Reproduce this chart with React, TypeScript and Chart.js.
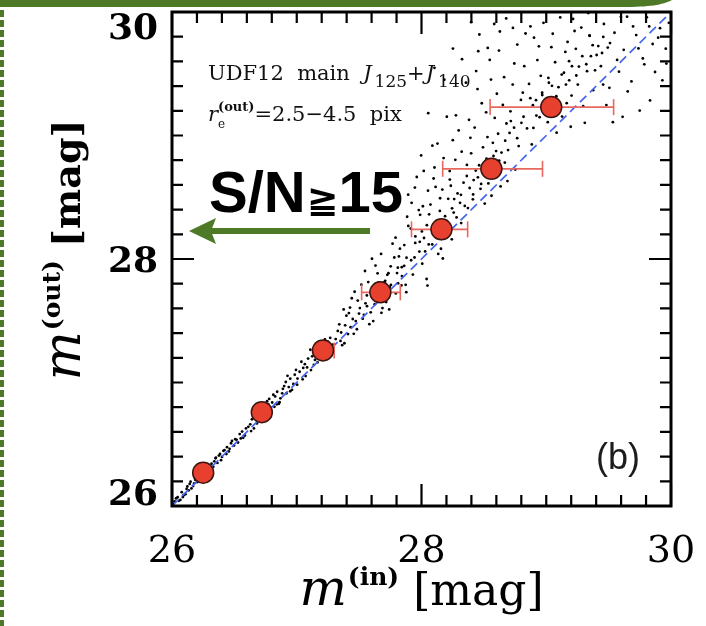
import React, { useEffect, useRef } from "react";
import { Chart, registerables } from "chart.js";

Chart.register(...registerables);

// ---------- axis definition ----------
const axisMin = 26;
const axisMax = 30;
const majorTicks = [26, 28, 30];
const tickLabels = ["26", "28", "30"];
const minorStep = 0.2;

// ---------- binned medians (red circles) ----------
const binInMag = [26.25, 26.72, 27.21, 27.67, 28.16, 28.56, 29.04];
const binOutMag = [26.27, 26.76, 27.26, 27.73, 28.24, 28.73, 29.23];
const binErrLow = [26.23, 26.69, 27.15, 27.52, 27.92, 28.17, 28.55];
const binErrHigh = [26.27, 26.77, 27.3, 27.83, 28.37, 28.97, 29.54];

// ---------- one-to-one line ----------
const identityLine = [26, 30];

// ---------- simulated galaxies (black dots), [m_in, m_out] ----------
const brightPoints: [number, number][] = [
  [26.021, 26.038], [26.214, 26.241], [26.087, 26.073], [26.352, 26.391], [26.156, 26.142], [26.473, 26.508], [26.045, 26.071],
  [26.298, 26.287], [26.518, 26.536], [26.123, 26.158], [26.401, 26.397], [26.247, 26.263], [26.562, 26.603], [26.067, 26.049],
  [26.339, 26.362], [26.186, 26.212], [26.441, 26.476], [26.273, 26.304], [26.108, 26.096], [26.584, 26.571], [26.385, 26.421],
  [26.032, 26.061], [26.231, 26.218], [26.497, 26.489], [26.142, 26.179], [26.317, 26.342], [26.456, 26.442], [26.201, 26.193],
  [26.543, 26.582], [26.078, 26.112], [26.364, 26.349], [26.259, 26.297], [26.421, 26.453], [26.169, 26.161], [26.529, 26.514],
  [26.093, 26.087], [26.288, 26.321], [26.481, 26.527], [26.134, 26.127], [26.376, 26.408], [26.222, 26.261], [26.571, 26.552],
  [26.055, 26.042], [26.331, 26.317], [26.412, 26.447], [26.195, 26.236], [26.507, 26.541], [26.284, 26.268], [26.117, 26.138],
  [26.462, 26.463], [26.243, 26.229], [26.593, 26.628], [26.178, 26.184], [26.349, 26.386], [26.436, 26.421], [26.012, 26.018],
  [26.265, 26.276], [26.551, 26.547], [26.149, 26.197], [26.393, 26.371],
];

const midPoints: [number, number][] = [
  [26.612, 26.641], [26.883, 26.912], [26.734, 26.792], [27.052, 27.118], [26.657, 26.628], [27.214, 27.286], [26.821, 26.803],
  [26.948, 27.031], [27.137, 27.142], [26.702, 26.748], [27.268, 27.362], [26.779, 26.867], [27.003, 26.982], [26.862, 26.841],
  [27.178, 27.243], [26.641, 26.702], [27.091, 27.194], [26.918, 26.913], [26.756, 26.731], [27.232, 27.221], [26.984, 27.063],
  [26.681, 26.669], [27.114, 27.101], [26.843, 26.925], [27.288, 27.307], [26.627, 26.661], [27.023, 27.087], [26.803, 26.838],
  [27.158, 27.292], [26.936, 26.963], [26.718, 26.805], [27.071, 27.052], [26.869, 26.872], [27.249, 27.331], [26.792, 26.768],
  [27.198, 27.184], [26.962, 26.941], [26.664, 26.736], [27.037, 27.168], [26.899, 26.971], [27.124, 27.212], [26.745, 26.762],
  [27.274, 27.264], [26.827, 26.887], [27.006, 27.032], [26.691, 26.718], [27.167, 27.163], [26.912, 27.004], [26.771, 26.824],
  [27.083, 27.122], [26.634, 26.607], [27.226, 27.349], [26.857, 26.828], [26.994, 27.102], [27.146, 27.183], [26.723, 26.694],
  [27.047, 27.026], [26.889, 26.949], [27.261, 27.238], [26.812, 26.901], [26.973, 26.988], [27.109, 27.265], [26.674, 26.7],
  [27.192, 27.318], [26.948, 26.929], [26.762, 26.849], [27.065, 27.148], [26.84, 26.823], [27.239, 27.196], [26.926, 27.054],
  [27.312, 27.352], [27.563, 27.618], [27.418, 27.562], [27.734, 27.691], [27.457, 27.394], [27.648, 27.884], [27.341, 27.471],
  [27.782, 28.012], [27.529, 27.517], [27.606, 27.742], [27.382, 27.318], [27.812, 27.803], [27.489, 27.663], [27.687, 27.603],
  [27.356, 27.405], [27.753, 27.941], [27.582, 27.472], [27.432, 27.448], [27.664, 27.726], [27.518, 27.792], [27.827, 28.084],
  [27.398, 27.541], [27.625, 27.634], [27.473, 27.497], [27.709, 27.823], [27.547, 27.903], [27.364, 27.302], [27.794, 27.721],
  [27.441, 27.682], [27.676, 28.041], [27.593, 27.568], [27.506, 27.603], [27.746, 27.774], [27.329, 27.418], [27.631, 27.947],
  [27.411, 27.392], [27.842, 27.934], [27.562, 27.705], [27.717, 27.651], [27.482, 27.431], [27.376, 27.592], [27.654, 27.808],
  [27.538, 27.548], [27.804, 27.886], [27.449, 27.514], [27.696, 27.737], [27.613, 27.497], [27.768, 28.124], [27.351, 27.337],
  [27.573, 27.813], [27.427, 27.607], [27.741, 27.592], [27.499, 27.558], [27.819, 28.021], [27.642, 27.672], [27.388, 27.463],
  [27.726, 27.872], [27.551, 27.641], [27.464, 27.735], [27.603, 28.002], [27.679, 27.564], [27.839, 27.786],
];

const ridgePoints: [number, number][] = [
  [27.702, 27.812], [27.755, 27.79], [27.81, 27.93], [27.843, 27.862], [27.88, 28.01], [27.917, 27.99], [27.95, 28.13],
  [27.983, 28.06], [28.02, 28.17], [28.058, 28.118], [28.094, 28.262], [28.121, 28.171], [28.182, 28.302], [28.208, 28.219],
  [28.245, 28.41], [28.281, 28.337], [28.316, 28.52], [28.347, 28.43], [28.386, 28.575], [28.414, 28.523], [28.452, 28.661],
  [28.478, 28.608], [28.521, 28.812], [28.546, 28.69], [28.598, 28.874], [28.623, 28.796], [28.671, 28.958], [28.694, 28.882],
  [28.742, 29.063], [28.767, 28.978], [28.818, 29.152], [28.846, 29.057], [28.893, 29.245], [28.921, 29.161], [28.968, 29.327],
  [28.997, 29.256], [29.046, 29.402], [29.081, 29.318], [29.124, 29.493], [29.158, 29.412], [29.206, 29.561], [29.241, 29.486],
  [29.289, 29.642], [29.321, 29.577], [29.372, 29.731], [29.404, 29.652], [29.457, 29.798], [29.493, 29.712], [27.735, 27.885],
  [27.861, 27.945], [28.003, 28.223], [28.147, 28.389], [28.262, 28.485], [28.435, 28.716], [28.572, 28.941], [28.716, 29.117],
  [28.872, 29.302], [29.017, 29.466], [29.183, 29.602], [29.347, 29.811], [27.792, 28.173], [27.894, 28.268], [27.989, 28.358],
  [28.113, 28.584], [28.227, 28.643], [28.364, 28.762],
];

const faintPoints: [number, number][] = [
  [27.862, 28.113], [28.214, 28.487], [27.931, 27.874], [28.097, 28.652], [28.318, 28.291], [27.978, 28.396], [28.156, 28.083],
  [28.043, 28.274], [28.271, 28.803], [27.893, 28.521], [28.189, 28.347], [28.006, 27.962], [28.337, 28.618], [27.951, 28.183],
  [28.128, 28.935], [28.072, 28.441], [28.243, 28.159], [27.873, 27.791], [28.298, 29.041], [28.018, 28.713], [28.167, 28.562],
  [27.914, 28.247], [28.226, 28.712], [28.086, 28.118], [27.997, 28.839], [28.141, 28.286], [28.309, 28.455], [27.944, 28.012],
  [28.052, 28.553], [28.258, 28.376], [27.885, 28.342], [28.177, 28.817], [28.113, 28.209], [28.029, 28.061], [28.235, 28.593],
  [27.962, 28.664], [28.322, 28.869], [28.061, 28.362], [28.197, 28.244], [27.921, 28.455], [28.276, 29.163], [28.104, 28.741],
  [27.986, 28.139], [28.149, 28.492], [28.041, 27.838], [28.048, 27.785], [27.878, 27.731], [28.171, 28.004], [28.087, 28.918],
  [28.203, 29.152], [28.289, 28.531], [28.134, 28.041], [27.947, 28.578], [28.011, 28.427], [28.251, 28.962],
  [28.363, 28.672], [28.587, 29.142], [28.412, 28.483], [28.744, 29.583], [28.493, 28.904], [28.668, 28.781], [28.381, 29.127],
  [28.812, 29.347], [28.536, 28.612], [28.449, 29.376], [28.706, 29.021], [28.621, 29.688], [28.398, 28.856], [28.779, 28.914],
  [28.557, 29.453], [28.473, 28.568], [28.834, 29.826], [28.652, 29.247], [28.426, 29.064], [28.594, 28.703], [28.731, 29.412],
  [28.518, 29.188], [28.372, 28.412], [28.689, 28.631], [28.801, 29.103], [28.462, 28.759], [28.614, 29.014], [28.547, 29.612],
  [28.768, 29.736], [28.438, 29.522], [28.641, 28.862], [28.507, 28.449], [28.824, 29.561], [28.577, 28.834], [28.713, 29.196],
  [28.392, 28.981], [28.483, 29.261], [28.662, 29.472], [28.752, 28.724], [28.529, 28.987], [28.604, 29.338], [28.418, 28.639],
  [28.797, 29.288], [28.681, 29.097], [28.561, 28.512], [28.455, 29.683], [28.733, 29.871], [28.356, 29.428], [28.634, 28.588],
  [28.488, 28.723], [28.325, 29.618], [28.252, 29.704], [28.531, 29.709], [28.628, 29.842], [28.183, 29.452], [28.054, 29.181],
  [28.104, 29.548], [28.398, 29.918], [28.583, 29.903], [28.464, 29.818], [28.679, 29.948],
  [28.862, 29.418], [29.127, 29.153], [28.941, 29.722], [29.262, 29.558], [29.033, 29.274], [28.897, 29.061], [29.348, 29.806],
  [29.184, 29.447], [28.978, 29.912], [29.071, 29.593], [29.296, 29.237], [28.918, 29.286], [29.215, 29.944], [29.012, 29.108],
  [29.153, 29.677], [28.873, 29.883], [29.327, 29.521], [29.098, 29.391], [28.956, 29.483], [29.237, 29.702], [29.052, 29.824],
  [29.376, 29.367], [28.993, 29.187], [29.164, 29.262], [29.281, 29.874], [28.929, 29.611], [29.112, 29.956], [29.203, 29.323],
  [29.041, 29.715], [29.358, 29.642], [28.884, 28.928], [29.142, 29.508], [29.309, 29.103], [29.021, 29.427], [29.196, 29.071],
  [28.967, 29.346], [29.253, 29.412], [29.083, 29.023], [29.391, 29.528], [28.902, 29.792], [29.227, 29.846], [29.063, 29.221],
  [29.337, 29.992], [28.947, 29.148], [29.171, 29.758],
  [29.417, 29.724], [29.583, 29.517], [29.462, 29.903], [29.721, 29.813], [29.506, 29.386], [29.648, 29.962], [29.853, 29.741],
  [29.438, 29.561], [29.774, 29.624], [29.547, 29.832], [29.912, 29.869], [29.683, 29.438], [29.482, 29.246], [29.806, 29.957],
  [29.621, 29.694], [29.958, 29.703], [29.534, 29.108], [29.749, 29.202], [29.872, 29.514], [29.447, 29.668], [29.696, 29.883],
  [29.931, 29.447], [29.568, 29.612], [29.832, 29.284], [29.653, 29.357], [29.983, 29.912], [29.511, 29.748], [29.786, 29.576],
  [29.612, 29.151], [29.897, 29.792], [29.456, 29.412], [29.739, 29.705], [29.963, 29.582], [29.598, 29.961], [29.825, 29.883],
];

// ---------- colours / fonts ----------
const GREEN = "#4e7a28";
const SERIF = '"DejaVu Serif"';
const SANS = '"Liberation Sans"';

type Seg = { t: string; f: string; dy?: number; dx?: number; hold?: boolean };

function richWidth(ctx: CanvasRenderingContext2D, segs: Seg[]) {
  let w = 0;
  let held = 0;
  for (const s of segs) {
    ctx.font = s.f;
    const m = ctx.measureText(s.t).width + (s.dx || 0);
    if (s.hold) {
      held = Math.max(held, m);
    } else {
      w += Math.max(m, held);
      held = 0;
    }
  }
  return w + held;
}

function drawRich(ctx: CanvasRenderingContext2D, segs: Seg[], x: number, y: number, align: "left" | "center") {
  let cx = align === "center" ? x - richWidth(ctx, segs) / 2 : x;
  let held = 0;
  ctx.textAlign = "left";
  ctx.textBaseline = "alphabetic";
  for (const s of segs) {
    ctx.font = s.f;
    ctx.fillText(s.t, cx + (s.dx || 0), y + (s.dy || 0));
    const m = ctx.measureText(s.t).width + (s.dx || 0);
    if (s.hold) {
      held = Math.max(held, m);
    } else {
      cx += Math.max(m, held);
      held = 0;
    }
  }
}

const framePlugin = {
  id: "frame",
  beforeDraw(chart: any) {
    const ctx: CanvasRenderingContext2D = chart.ctx;
    ctx.save();
    ctx.fillStyle = "#ffffff";
    ctx.fillRect(0, 0, chart.width, chart.height);
    // slide decorations: green top bar and dashed left rule
    ctx.fillStyle = GREEN;
    ctx.beginPath();
    ctx.moveTo(0, 0);
    ctx.lineTo(672, 0);
    ctx.bezierCurveTo(662, 5, 650, 7, 622, 7);
    ctx.lineTo(0, 7);
    ctx.closePath();
    ctx.fill();
    ctx.strokeStyle = GREEN;
    ctx.lineWidth = 4;
    ctx.setLineDash([7, 3]);
    ctx.beginPath();
    ctx.moveTo(2, 10);
    ctx.lineTo(2, chart.height);
    ctx.stroke();
    ctx.restore();
  },
  afterDraw(chart: any) {
    const ctx: CanvasRenderingContext2D = chart.ctx;
    const xs = chart.scales.x;
    const ys = chart.scales.y;
    const { left, right, top, bottom } = chart.chartArea;
    ctx.save();
    ctx.strokeStyle = "#000";
    ctx.fillStyle = "#000";

    // ticks on all four sides, pointing inward
    ctx.lineWidth = 2.2;
    const n = Math.round((axisMax - axisMin) / minorStep);
    for (let i = 0; i <= n; i++) {
      const v = axisMin + i * minorStep;
      const isMajor = majorTicks.some((m) => Math.abs(m - v) < 1e-6);
      const len = isMajor ? 22 : 11;
      const px = xs.getPixelForValue(v);
      const py = ys.getPixelForValue(v);
      ctx.beginPath();
      ctx.moveTo(px, bottom);
      ctx.lineTo(px, bottom - len);
      ctx.moveTo(px, top);
      ctx.lineTo(px, top + len);
      ctx.moveTo(left, py);
      ctx.lineTo(left + len, py);
      ctx.moveTo(right, py);
      ctx.lineTo(right - len, py);
      ctx.stroke();
    }
    // frame
    ctx.lineWidth = 3;
    ctx.strokeRect(left, top, right - left, bottom - top);

    // x tick labels
    ctx.font = `38px ${SERIF}`;
    ctx.textAlign = "center";
    ctx.textBaseline = "alphabetic";
    majorTicks.forEach((v, i) => {
      ctx.fillText(tickLabels[i], xs.getPixelForValue(v), 562);
    });
    // y tick labels (kept inside frame height, IDL style)
    ctx.font = `bold 36px ${SERIF}`;
    ctx.textAlign = "right";
    const digitH = ctx.measureText("0").actualBoundingBoxAscent;
    majorTicks.forEach((v, i) => {
      const py = ys.getPixelForValue(v);
      let base = py + digitH / 2;
      if (v === axisMax) base = py + digitH + 1;
      if (v === axisMin) base = py - 1;
      ctx.fillText(tickLabels[i], 158, base);
    });

    // x axis title
    drawRich(
      ctx,
      [
        { t: "m", f: `italic 50px ${SERIF}` },
        { t: "(in)", f: `bold 25px ${SERIF}`, dy: -20, dx: 1 },
        { t: " [mag]", f: `44px ${SERIF}` },
      ],
      (left + right) / 2,
      605,
      "center"
    );
    // y axis title (rotated)
    ctx.save();
    ctx.translate(80, 250);
    ctx.rotate(-Math.PI / 2);
    drawRich(
      ctx,
      [
        { t: "m", f: `italic 52px ${SERIF}` },
        { t: "(out)", f: `bold 25px ${SERIF}`, dy: -20, dx: 1 },
        { t: " [mag]", f: `bold 38px ${SERIF}` },
      ],
      0,
      0,
      "center"
    );
    ctx.restore();

    // annotation text
    ctx.fillStyle = "#111";
    drawRich(
      ctx,
      [
        { t: "UDF12  main  ", f: `21px ${SERIF}` },
        { t: "J", f: `italic 21px ${SERIF}` },
        { t: "125", f: `17px ${SERIF}`, dy: 7, dx: 3 },
        { t: "+", f: `21px ${SERIF}` },
        { t: "J", f: `italic 21px ${SERIF}`, dx: 1 },
        { t: "140", f: `17px ${SERIF}`, dy: 7, dx: 4 },
      ],
      208,
      80,
      "left"
    );
    drawRich(
      ctx,
      [
        { t: "r", f: `italic 21px ${SERIF}` },
        { t: "e", f: `12px ${SERIF}`, dy: 7, hold: true },
        { t: "(out)", f: `bold 13px ${SERIF}`, dy: -10 },
        { t: "=2.5\u22124.5  pix", f: `21px ${SERIF}` },
      ],
      208,
      121,
      "left"
    );

    // panel tag
    ctx.fillStyle = "#1c1c1c";
    ctx.font = `36px ${SANS}`;
    ctx.textAlign = "left";
    ctx.fillText("(b)", 596, 469);

    // S/N label and arrow
    ctx.fillStyle = "#000";
    drawRich(
      ctx,
      [
        { t: "S/N", f: `bold 58px ${SANS}` },
        { t: "\u2267", f: `bold 38px "DejaVu Sans"`, dx: 1 },
        { t: "15", f: `bold 58px ${SANS}` },
      ],
      209,
      212,
      "left"
    );
    ctx.fillStyle = GREEN;
    ctx.strokeStyle = GREEN;
    ctx.lineWidth = 6;
    ctx.beginPath();
    ctx.moveTo(370, 231);
    ctx.lineTo(208, 231);
    ctx.stroke();
    ctx.beginPath();
    ctx.moveTo(189, 231);
    ctx.lineTo(216, 218);
    ctx.lineTo(211, 231);
    ctx.lineTo(216, 244);
    ctx.closePath();
    ctx.fill();
    ctx.restore();
  },
};

export default function App() {
  const ref = useRef<HTMLCanvasElement>(null);
  useEffect(() => {
    const canvas = ref.current;
    if (!canvas) return;
    const errorBars = binInMag.map((_, i) => ({
      label: `err${i}`,
      data: [
        { x: binErrLow[i], y: binOutMag[i] },
        { x: binErrHigh[i], y: binOutMag[i] },
      ],
      showLine: true,
      borderColor: "#e8675e",
      borderWidth: 1.6,
      pointStyle: "line" as const,
      pointRadius: 8,
      pointRotation: 90,
      pointBorderColor: "#e8675e",
      pointBorderWidth: 1.6,
      order: 1,
    }));
    const galaxies = [...brightPoints, ...midPoints, ...ridgePoints, ...faintPoints];
    const chart = new Chart(canvas, {
      type: "scatter",
      data: {
        datasets: [
          {
            label: "median",
            data: binInMag.map((x, i) => ({ x, y: binOutMag[i] })),
            pointRadius: 10.5,
            pointBackgroundColor: "#e8402f",
            pointBorderColor: "#3b1510",
            pointBorderWidth: 1.5,
            order: 0,
          },
          ...errorBars,
          {
            label: "identity",
            data: identityLine.map((v) => ({ x: v, y: v })),
            showLine: true,
            borderColor: "#4466ee",
            borderWidth: 1.7,
            borderDash: [9, 5],
            pointRadius: 0,
            order: 2,
          },
          {
            label: "galaxies",
            data: galaxies.map(([x, y]) => ({ x, y })),
            pointRadius: 1.4,
            pointBackgroundColor: "#000",
            pointBorderWidth: 0,
            order: 3,
          },
        ] as any,
      },
      options: {
        animation: false,
        responsive: false,
        devicePixelRatio: 1,
        events: [],
        layout: { padding: { left: 172, right: 35, top: 7, bottom: 120 } },
        scales: {
          x: { type: "linear", min: axisMin, max: axisMax, display: false },
          y: { type: "linear", min: axisMin, max: axisMax, display: false },
        },
        plugins: { legend: { display: false }, tooltip: { enabled: false } },
      },
      plugins: [framePlugin],
    });
    return () => chart.destroy();
  }, []);
  return (
    <div style={{ position: "absolute", left: 0, top: 0, width: 706, height: 626, overflow: "hidden", background: "#fff" }}>
      <canvas ref={ref} width={706} height={626} style={{ display: "block", width: 706, height: 626 }} />
    </div>
  );
}
